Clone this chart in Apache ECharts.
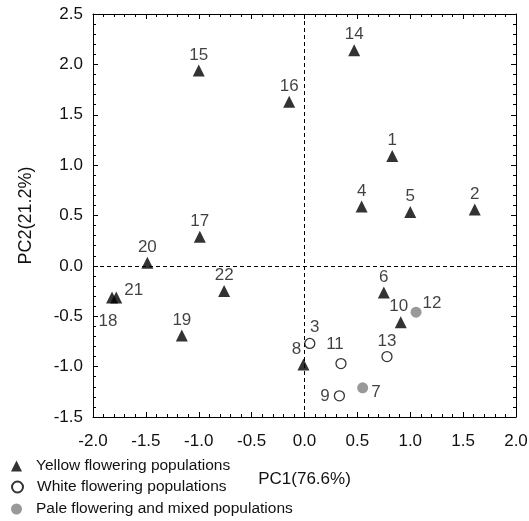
<!DOCTYPE html>
<html>
<head>
<meta charset="utf-8">
<script src="https://cdn.jsdelivr.net/npm/echarts@6/dist/echarts.min.js"></script>
<style>
  html, body { margin: 0; padding: 0; background: #fff; }
  #chart { width: 529px; height: 521px; }
</style>
</head>
<body>
<div id="chart"></div>
<script>
// PCA scores of the populations: PC1 vs PC2
const yellowIds = ['1', '2', '4', '5', '6', '8', '10', '14', '15', '16', '17', '18', '19', '20', '21', '22'];
const yellowPC1 = [0.83, 1.61, 0.54, 1.00, 0.75, -0.01, 0.91, 0.47, -1.00, -0.145, -0.99, -1.82, -1.16, -1.486, -1.78, -0.76];
const yellowPC2 = [1.09, 0.56, 0.59, 0.535, -0.265, -0.98, -0.56, 2.14, 1.94, 1.63, 0.29, -0.315, -0.69, 0.03, -0.315, -0.25];

const whiteIds = ['3', '9', '11', '13'];
const whitePC1 = [0.05, 0.33, 0.345, 0.78];
const whitePC2 = [-0.77, -1.29, -0.97, -0.90];

const paleIds = ['7', '12'];
const palePC1 = [0.55, 1.055];
const palePC2 = [-1.21, -0.46];

const seriesNames = ['Yellow flowering populations', 'White flowering populations', 'Pale flowering and mixed populations'];
const xTicks = { min: -2.0, max: 2.0, step: 0.5 };
const yTicks = { min: -1.5, max: 2.5, step: 0.5 };
const xTitle = 'PC1(76.6%)';
const yTitle = 'PC2(21.2%)';

// where each point label sits relative to its marker
const labelPlacement = {
  '21': { position: 'right', distance: 2, offset: [0, -7] },
  '18': { position: 'bottom', distance: 2, offset: [-4, 7] },
  '12': { position: 'right', distance: 1, offset: [0, -9] },
  '3':  { position: 'top', distance: 2, offset: [5, 0] },
  '8':  { position: 'top', distance: 1, offset: [-7, 0] },
  '11': { position: 'top', distance: 3, offset: [-6, -2] },
  '7':  { position: 'right', distance: 3, offset: [0, 5] },
  '9':  { position: 'left', distance: 4, offset: [0, 0] },
  '10': { position: 'top', distance: 1, offset: [-2, 0] }
};

const FONT = '"Liberation Sans", Arial, sans-serif';
const TEXT = '#111111';

function points(ids, xs, ys) {
  return ids.map((id, i) => {
    const item = { name: id, value: [xs[i], ys[i]] };
    if (labelPlacement[id]) item.label = labelPlacement[id];
    return item;
  });
}

const fmt = v => v.toFixed(1);

function valueAxis(range, extra) {
  return Object.assign({
    type: 'value',
    min: range.min,
    max: range.max,
    interval: range.step,
    splitLine: { show: false },
    axisLine: { show: true, onZero: false, lineStyle: { color: '#000', width: 1 } },
    axisTick: { show: true, inside: true, length: 5, lineStyle: { color: '#000' } },
    minorTick: { show: true, splitNumber: 5, length: 3, lineStyle: { color: '#000' } },
    minorSplitLine: { show: false }
  }, extra);
}

const pointLabel = {
  show: true,
  formatter: '{b}',
  position: 'top',
  distance: 1,
  fontFamily: FONT,
  fontSize: 17,
  color: TEXT
};

// one legend row per series, stacked under the plot
const legendRowTops = [458, 479, 501];
const legends = seriesNames.map((name, i) => ({
  orient: 'vertical',
  left: 11,
  top: legendRowTops[i],
  padding: 0,
  itemWidth: 11,
  itemHeight: 11,
  selectedMode: false,
  data: [name],
  textStyle: { fontFamily: FONT, fontSize: 15.5, color: TEXT, padding: [0, 0, 0, 9] }
}));

const chart = echarts.init(document.getElementById('chart'), null, { renderer: 'canvas' });

chart.setOption({
  backgroundColor: '#fff',
  animation: false,
  textStyle: { fontFamily: FONT },
  grid: { left: 93, right: 13, top: 14, bottom: 104, containLabel: false, outerBoundsMode: 'none' },
  xAxis: [
    valueAxis(xTicks, {
      position: 'bottom',
      name: xTitle,
      nameLocation: 'middle',
      nameGap: 54,
      nameTextStyle: { fontFamily: FONT, fontSize: 17, color: TEXT },
      axisLabel: { formatter: fmt, margin: 16, fontFamily: FONT, fontSize: 17, color: TEXT }
    }),
    valueAxis(xTicks, { position: 'top', axisLabel: { show: false } })
  ],
  yAxis: [
    valueAxis(yTicks, {
      position: 'left',
      name: yTitle,
      nameLocation: 'middle',
      nameGap: 58,
      nameTextStyle: { fontFamily: FONT, fontSize: 18, color: TEXT },
      axisLabel: { formatter: fmt, margin: 10, fontFamily: FONT, fontSize: 17, color: TEXT }
    }),
    valueAxis(yTicks, { position: 'right', axisLabel: { show: false } })
  ],
  legend: legends,
  series: [
    {
      name: seriesNames[0],
      type: 'scatter',
      xAxisIndex: 0,
      yAxisIndex: 0,
      symbol: 'triangle',
      symbolSize: 12,
      itemStyle: { color: '#000' },
      label: pointLabel,
      data: points(yellowIds, yellowPC1, yellowPC2),
      z: 3,
      markLine: {
        silent: true,
        symbol: 'none',
        label: { show: false },
        z: 1,
        lineStyle: { color: '#000', width: 1, type: [4, 3] },
        data: [{ xAxis: 0 }, { yAxis: 0 }]
      }
    },
    {
      name: seriesNames[1],
      type: 'scatter',
      symbol: 'circle',
      symbolSize: 10,
      itemStyle: { color: '#fff', borderColor: '#000', borderWidth: 1.3 },
      label: pointLabel,
      data: points(whiteIds, whitePC1, whitePC2),
      z: 3
    },
    {
      name: seriesNames[2],
      type: 'scatter',
      symbol: 'circle',
      symbolSize: 11,
      itemStyle: { color: '#808080' },
      label: pointLabel,
      data: points(paleIds, palePC1, palePC2),
      z: 3
    }
  ]
});
</script>
</body>
</html>
